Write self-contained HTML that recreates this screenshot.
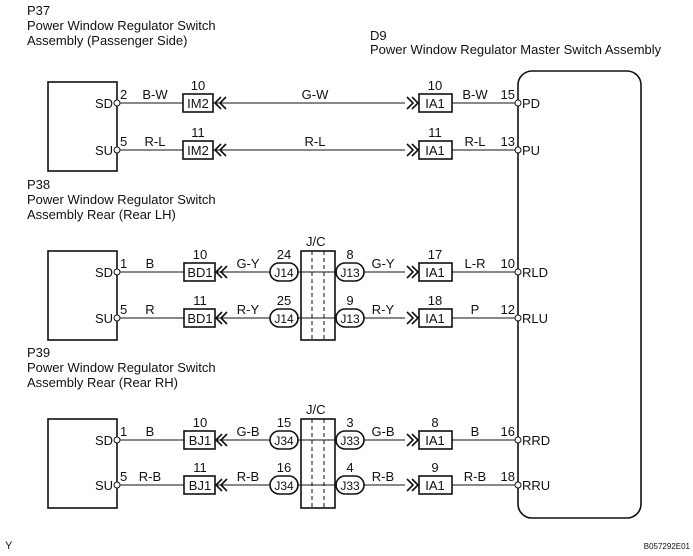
<!DOCTYPE html>
<html><head><meta charset="utf-8"><style>
body{margin:0;background:#fff;}
svg{display:block;font-family:"Liberation Sans",Arial,sans-serif;}
text{font-size:13px;fill:#111;}
.s{font-size:12px;}
</style></head><body>
<svg width="693" height="556" viewBox="0 0 693 556" xmlns="http://www.w3.org/2000/svg">
<defs>
<g id="chl"><path d="M0,-6 L-6,0 L0,6 M5,-6 L-1,0 L5,6" fill="none" stroke="#111" stroke-width="1.6"/></g>
<g id="chr"><path d="M0,-6 L6,0 L0,6 M-5,-6 L1,0 L-5,6" fill="none" stroke="#111" stroke-width="1.6"/></g>
</defs>
<g fill="none" stroke="#111">
<!-- titles handled below -->
<rect x="48" y="82" width="69" height="89" stroke-width="1.6"/>
<rect x="48" y="251" width="69" height="89" stroke-width="1.6"/>
<rect x="48" y="419" width="69" height="89" stroke-width="1.6"/>
<rect x="518" y="71" width="123" height="447" rx="14" stroke-width="1.6"/>
<!-- JC boxes -->
<rect x="301" y="251" width="34" height="89" stroke-width="1.6"/>
<path d="M312,251 V340 M324,251 V340" stroke-dasharray="4,3" stroke-width="1"/>
<rect x="301" y="419" width="34" height="89" stroke-width="1.6"/>
<path d="M312,419 V508 M324,419 V508" stroke-dasharray="4,3" stroke-width="1"/>
<!-- lines -->
<g stroke-width="1">
<path d="M120,103 H183 M212,103 H405 M452,103 H515"/>
<path d="M120,150 H183 M212,150 H405 M452,150 H515"/>
<path d="M120,272 H184 M215,272 H270 M297,272 H337 M364,272 H405 M452,272 H515"/>
<path d="M120,318 H184 M215,318 H270 M297,318 H337 M364,318 H405 M452,318 H515"/>
<path d="M120,440 H184 M215,440 H270 M297,440 H337 M364,440 H405 M452,440 H515"/>
<path d="M120,485 H184 M215,485 H270 M297,485 H337 M364,485 H405 M452,485 H515"/>
</g>
<g stroke-width="1.6">
<rect x="183" y="94" width="30" height="18"/><rect x="183" y="141" width="30" height="18"/>
<rect x="184" y="263" width="31" height="18"/><rect x="184" y="309" width="31" height="18"/>
<rect x="184" y="431" width="31" height="18"/><rect x="184" y="476" width="31" height="18"/>
<rect x="419" y="94" width="33" height="18"/><rect x="419" y="141" width="33" height="18"/>
<rect x="419" y="263" width="33" height="18"/><rect x="419" y="309" width="33" height="18"/>
<rect x="419" y="431" width="33" height="18"/><rect x="419" y="476" width="33" height="18"/>
<rect x="270" y="263" width="28" height="18" rx="9"/><rect x="270" y="309" width="28" height="18" rx="9"/>
<rect x="336" y="263" width="28" height="18" rx="9"/><rect x="336" y="309" width="28" height="18" rx="9"/>
<rect x="270" y="431" width="28" height="18" rx="9"/><rect x="270" y="476" width="28" height="18" rx="9"/>
<rect x="336" y="431" width="28" height="18" rx="9"/><rect x="336" y="476" width="28" height="18" rx="9"/>
</g>
<g fill="#fff" stroke-width="1">
<circle cx="117" cy="103" r="3"/><circle cx="117" cy="150" r="3"/>
<circle cx="117" cy="272" r="3"/><circle cx="117" cy="318" r="3"/>
<circle cx="117" cy="440" r="3"/><circle cx="117" cy="485" r="3"/>
<circle cx="518" cy="103" r="3"/><circle cx="518" cy="150" r="3"/>
<circle cx="518" cy="272" r="3"/><circle cx="518" cy="318" r="3"/>
<circle cx="518" cy="440" r="3"/><circle cx="518" cy="485" r="3"/>
</g>
</g>
<use href="#chl" x="221" y="103"/><use href="#chl" x="221" y="150"/>
<use href="#chl" x="222" y="272"/><use href="#chl" x="222" y="318"/>
<use href="#chl" x="222" y="440"/><use href="#chl" x="222" y="485"/>
<use href="#chr" x="412" y="103"/><use href="#chr" x="412" y="150"/>
<use href="#chr" x="412" y="272"/><use href="#chr" x="412" y="318"/>
<use href="#chr" x="412" y="440"/><use href="#chr" x="412" y="485"/>

<text x="27" y="15">P37</text>
<text x="27" y="30">Power Window Regulator Switch</text>
<text x="27" y="45">Assembly (Passenger Side)</text>
<text x="370" y="40">D9</text>
<text x="370" y="54">Power Window Regulator Master Switch Assembly</text>
<text x="27" y="189">P38</text>
<text x="27" y="204">Power Window Regulator Switch</text>
<text x="27" y="219">Assembly Rear (Rear LH)</text>
<text x="27" y="357">P39</text>
<text x="27" y="372">Power Window Regulator Switch</text>
<text x="27" y="387">Assembly Rear (Rear RH)</text>
<text x="306" y="246">J/C</text>
<text x="306" y="414">J/C</text>

<g text-anchor="end">
<text x="113" y="108">SD</text><text x="113" y="155">SU</text>
<text x="113" y="277">SD</text><text x="113" y="323">SU</text>
<text x="113" y="445">SD</text><text x="113" y="490">SU</text>
</g>
<text x="120" y="99">2</text><text x="120" y="146">5</text>
<text x="120" y="268">1</text><text x="120" y="314">5</text>
<text x="120" y="436">1</text><text x="120" y="481">5</text>
<g text-anchor="middle">
<text x="155" y="99">B-W</text><text x="155" y="146">R-L</text>
<text x="150" y="268">B</text><text x="150" y="314">R</text>
<text x="150" y="436">B</text><text x="150" y="481">R-B</text>
<text x="198" y="108">IM2</text><text x="198" y="155">IM2</text>
<text x="198" y="90">10</text><text x="198" y="137">11</text>
<text x="200" y="277">BD1</text><text x="200" y="323">BD1</text>
<text x="200" y="259">10</text><text x="200" y="305">11</text>
<text x="200" y="445">BJ1</text><text x="200" y="490">BJ1</text>
<text x="200" y="427">10</text><text x="200" y="472">11</text>
<text x="315" y="99">G-W</text><text x="315" y="146">R-L</text>
<text x="248" y="268">G-Y</text><text x="248" y="314">R-Y</text>
<text x="248" y="436">G-B</text><text x="248" y="481">R-B</text>
<text x="284" y="277" class="s">J14</text><text x="284" y="323" class="s">J14</text>
<text x="284" y="259">24</text><text x="284" y="305">25</text>
<text x="284" y="445" class="s">J34</text><text x="284" y="490" class="s">J34</text>
<text x="284" y="427">15</text><text x="284" y="472">16</text>
<text x="350" y="277" class="s">J13</text><text x="350" y="323" class="s">J13</text>
<text x="350" y="259">8</text><text x="350" y="305">9</text>
<text x="350" y="445" class="s">J33</text><text x="350" y="490" class="s">J33</text>
<text x="350" y="427">3</text><text x="350" y="472">4</text>
<text x="383" y="268">G-Y</text><text x="383" y="314">R-Y</text>
<text x="383" y="436">G-B</text><text x="383" y="481">R-B</text>
<text x="435" y="108">IA1</text><text x="435" y="155">IA1</text>
<text x="435" y="90">10</text><text x="435" y="137">11</text>
<text x="435" y="277">IA1</text><text x="435" y="323">IA1</text>
<text x="435" y="259">17</text><text x="435" y="305">18</text>
<text x="435" y="445">IA1</text><text x="435" y="490">IA1</text>
<text x="435" y="427">8</text><text x="435" y="472">9</text>
<text x="475" y="99">B-W</text><text x="475" y="146">R-L</text>
<text x="475" y="268">L-R</text><text x="475" y="314">P</text>
<text x="475" y="436">B</text><text x="475" y="481">R-B</text>
</g>
<g text-anchor="end">
<text x="515" y="99">15</text><text x="515" y="146">13</text>
<text x="515" y="268">10</text><text x="515" y="314">12</text>
<text x="515" y="436">16</text><text x="515" y="481">18</text>
</g>
<text x="522" y="108">PD</text><text x="522" y="155">PU</text>
<text x="522" y="277">RLD</text><text x="522" y="323">RLU</text>
<text x="522" y="445">RRD</text><text x="522" y="490">RRU</text>
<text x="5" y="549" style="font-size:11px">Y</text>
<text x="690" y="549" text-anchor="end" style="font-size:8px">B057292E01</text>
</svg>
</body></html>
